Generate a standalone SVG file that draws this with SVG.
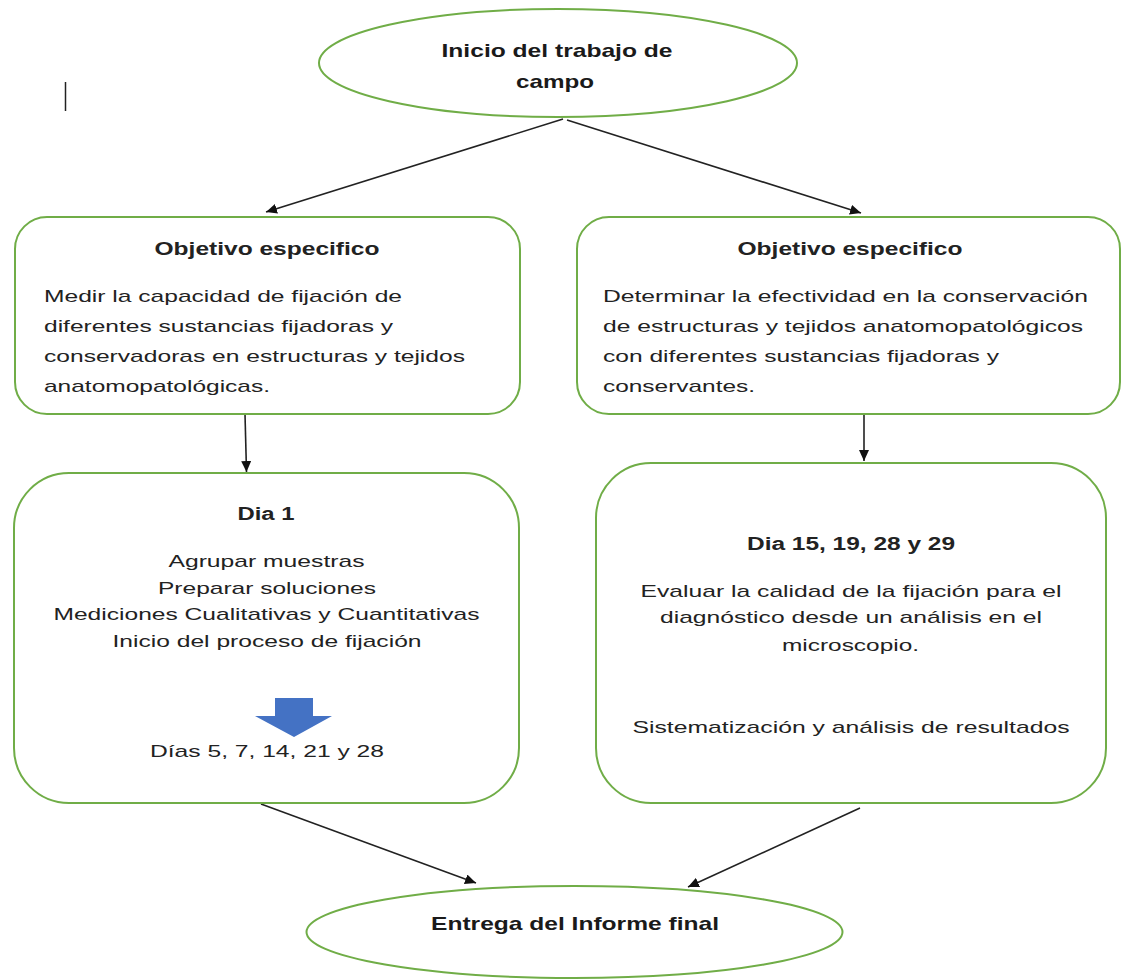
<svg xmlns="http://www.w3.org/2000/svg" width="1122" height="979" viewBox="0 0 1122 979">
<style>
.node{fill:#fff;stroke:#70ad47;stroke-width:2}
.t{font-family:"Liberation Sans",Arial,sans-serif;font-size:17px;fill:#222}
.b{font-family:"Liberation Sans",Arial,sans-serif;font-size:18px;font-weight:bold;fill:#222}
.e{font-family:"Liberation Sans",Arial,sans-serif;font-size:19px;font-weight:bold;fill:#1a1a1a}
.m{text-anchor:middle}
.c{stroke:#222;stroke-width:1.6;fill:none;marker-end:url(#ah)}
</style>
<defs>
<marker id="ah" markerUnits="userSpaceOnUse" markerWidth="12" markerHeight="10" refX="11" refY="5" orient="auto">
<path d="M0,0 L11,5 L0,10 z" fill="#111"/>
</marker>
</defs>
<rect width="1122" height="979" fill="#fff"/>
<line x1="65.5" y1="82" x2="65.5" y2="111" stroke="#222" stroke-width="1.5"/>

<g id="connectors">
<line class="c" x1="563" y1="119" x2="266" y2="212"/>
<line class="c" x1="567" y1="120" x2="861" y2="213"/>
<line class="c" x1="245" y1="414" x2="246.5" y2="472"/>
<line class="c" x1="864" y1="415" x2="864" y2="461"/>
<line class="c" x1="261" y1="804" x2="476" y2="883"/>
<line class="c" x1="860" y1="808" x2="688" y2="887"/>
</g>

<g id="inicio">
<ellipse class="node" cx="558" cy="63" rx="239" ry="54"/>
<text class="e m" x="557" y="57" textLength="231" lengthAdjust="spacingAndGlyphs">Inicio del trabajo de</text>
<text class="e m" x="555" y="88" textLength="78" lengthAdjust="spacingAndGlyphs">campo</text>
</g>

<g id="objetivo1">
<rect class="node" x="15" y="217" width="505" height="197" rx="32" ry="32"/>
<text class="b m" x="267" y="255" textLength="225" lengthAdjust="spacingAndGlyphs">Objetivo especifico</text>
<text class="t" x="44" y="302" textLength="358" lengthAdjust="spacingAndGlyphs">Medir la capacidad de fijación de</text>
<text class="t" x="44" y="332" textLength="349" lengthAdjust="spacingAndGlyphs">diferentes sustancias fijadoras y</text>
<text class="t" x="44" y="362" textLength="421" lengthAdjust="spacingAndGlyphs">conservadoras en estructuras y tejidos</text>
<text class="t" x="44" y="392" textLength="226" lengthAdjust="spacingAndGlyphs">anatomopatológicas.</text>
</g>

<g id="objetivo2">
<rect class="node" x="577" y="217" width="543" height="197" rx="32" ry="32"/>
<text class="b m" x="850" y="255" textLength="225" lengthAdjust="spacingAndGlyphs">Objetivo especifico</text>
<text class="t" x="603" y="302" textLength="485" lengthAdjust="spacingAndGlyphs">Determinar la efectividad en la conservación</text>
<text class="t" x="603" y="332" textLength="480" lengthAdjust="spacingAndGlyphs">de estructuras y tejidos anatomopatológicos</text>
<text class="t" x="603" y="362" textLength="396" lengthAdjust="spacingAndGlyphs">con diferentes sustancias fijadoras y</text>
<text class="t" x="603" y="392" textLength="152" lengthAdjust="spacingAndGlyphs">conservantes.</text>
</g>

<g id="dia1">
<rect class="node" x="14" y="473" width="505" height="330" rx="55" ry="55"/>
<text class="b m" x="266" y="520" textLength="57" lengthAdjust="spacingAndGlyphs">Dia 1</text>
<text class="t m" x="266.5" y="567" textLength="196" lengthAdjust="spacingAndGlyphs">Agrupar muestras</text>
<text class="t m" x="267" y="594" textLength="218" lengthAdjust="spacingAndGlyphs">Preparar soluciones</text>
<text class="t m" x="266.5" y="620" textLength="426" lengthAdjust="spacingAndGlyphs">Mediciones Cualitativas y Cuantitativas</text>
<text class="t m" x="267" y="647" textLength="309" lengthAdjust="spacingAndGlyphs">Inicio del proceso de fijación</text>
<path d="M275,698 H313 V716 H332 L294,737 L255,716 H275 Z" fill="#4472c4"/>
<text class="t m" x="267" y="757" textLength="234" lengthAdjust="spacingAndGlyphs">Días 5, 7, 14, 21 y 28</text>
</g>

<g id="dia15">
<rect class="node" x="596" y="463" width="510" height="340" rx="55" ry="55"/>
<text class="b m" x="851" y="550" textLength="208" lengthAdjust="spacingAndGlyphs">Dia 15, 19, 28 y 29</text>
<text class="t m" x="851" y="597" textLength="421" lengthAdjust="spacingAndGlyphs">Evaluar la calidad de la fijación para el</text>
<text class="t m" x="851" y="623" textLength="382" lengthAdjust="spacingAndGlyphs">diagnóstico desde un análisis en el</text>
<text class="t m" x="850.5" y="651" textLength="137" lengthAdjust="spacingAndGlyphs">microscopio.</text>
<text class="t m" x="851" y="733" textLength="437" lengthAdjust="spacingAndGlyphs">Sistematización y análisis de resultados</text>
</g>

<g id="entrega">
<ellipse class="node" cx="574.5" cy="932" rx="268" ry="46"/>
<text class="e m" x="575" y="930" textLength="288" lengthAdjust="spacingAndGlyphs">Entrega del Informe final</text>
</g>
</svg>
